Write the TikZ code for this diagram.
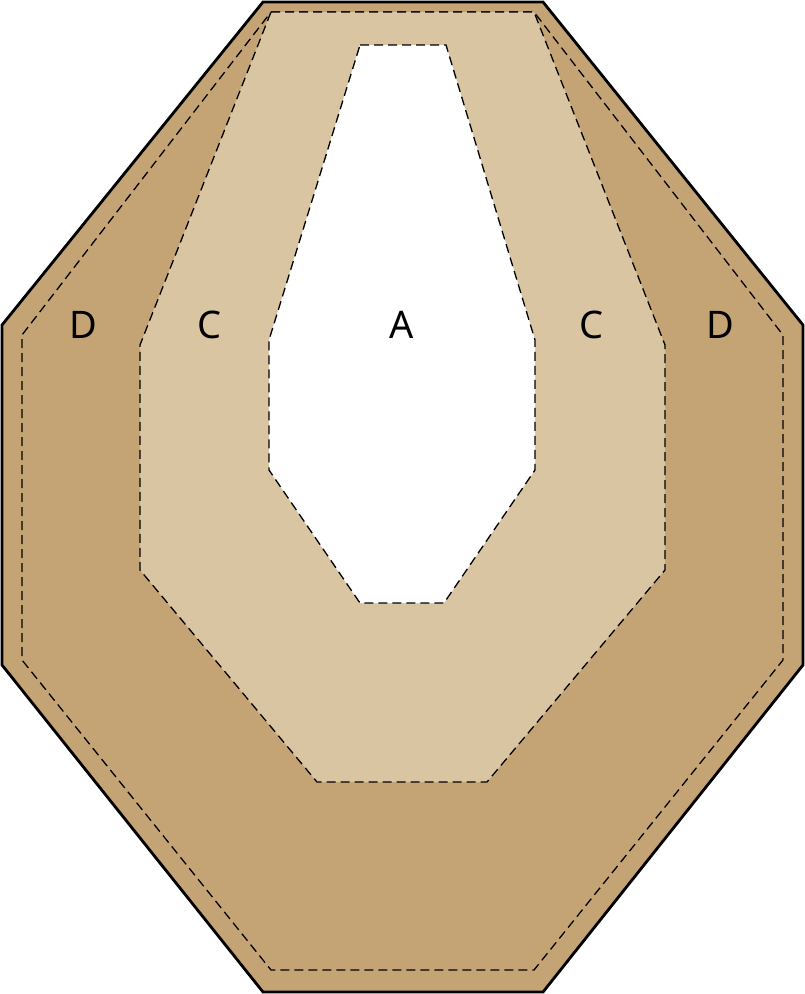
\documentclass[tikz,border=0pt]{standalone}
\usepackage{fontspec}
\setmainfont{Noto Sans}
\usetikzlibrary{positioning,calc}
\definecolor{ZoneD}{RGB}{196,164,116}
\definecolor{ZoneC}{RGB}{217,197,161}
\tikzset{
  rim/.style={draw=black,line width=2.8pt,line join=miter,fill=ZoneD},
  zoneline/.style={draw=black,line width=1.3pt,dash pattern=on 9pt off 5pt},
  zonelabel/.style={font=\fontsize{38}{42}\selectfont,text=black,inner sep=0pt},
}

\begin{document}
\begin{tikzpicture}[x=1pt,y=-1pt]
\useasboundingbox (0,0) rectangle (805,994);
% outer rim
\coordinate (o1) at (263,2);
\coordinate (o2) at (543,2);
\coordinate (o3) at (803,325);
\coordinate (o4) at (803,665);
\coordinate (o5) at (543,992);
\coordinate (o6) at (263,992);
\coordinate (o7) at (2,665);
\coordinate (o8) at (2,325);
% D zone border
\coordinate (d1) at (271,12);
\coordinate (d2) at (534,12);
\coordinate (d3) at (783,335);
\coordinate (d4) at (783,660);
\coordinate (d5) at (534,970);
\coordinate (d6) at (271,970);
\coordinate (d7) at (22,660);
\coordinate (d8) at (22,335);
% C zone
\coordinate (c1) at (271,12);
\coordinate (c2) at (534,12);
\coordinate (c3) at (665,345);
\coordinate (c4) at (665,570);
\coordinate (c5) at (487,782);
\coordinate (c6) at (317,782);
\coordinate (c7) at (140,570);
\coordinate (c8) at (140,345);
% A zone
\coordinate (a1) at (360,45);
\coordinate (a2) at (446,45);
\coordinate (a3) at (535,340);
\coordinate (a4) at (535,470);
\coordinate (a5) at (444,603);
\coordinate (a6) at (360,603);
\coordinate (a7) at (269,470);
\coordinate (a8) at (269,340);
\draw[rim] (o1)--(o2)--(o3)--(o4)--(o5)--(o6)--(o7)--(o8)--cycle;
\draw[zoneline] (d1)--(d2)--(d3)--(d4)--(d5)--(d6)--(d7)--(d8)--cycle;
\draw[zoneline,fill=ZoneC] (c1)--(c2)--(c3)--(c4)--(c5)--(c6)--(c7)--(c8)--cycle;
\draw[zoneline,fill=white] (a1)--(a2)--(a3)--(a4)--(a5)--(a6)--(a7)--(a8)--cycle;
\node[zonelabel] (lblDl) at (83,325) {D};
\node[zonelabel] (lblCl) at (210,325) {C};
\node[zonelabel] (lblA) at (402,325) {A};
\node[zonelabel] (lblCr) at (592,325) {C};
\node[zonelabel] (lblDr) at (720,325) {D};
\end{tikzpicture}
\end{document}
